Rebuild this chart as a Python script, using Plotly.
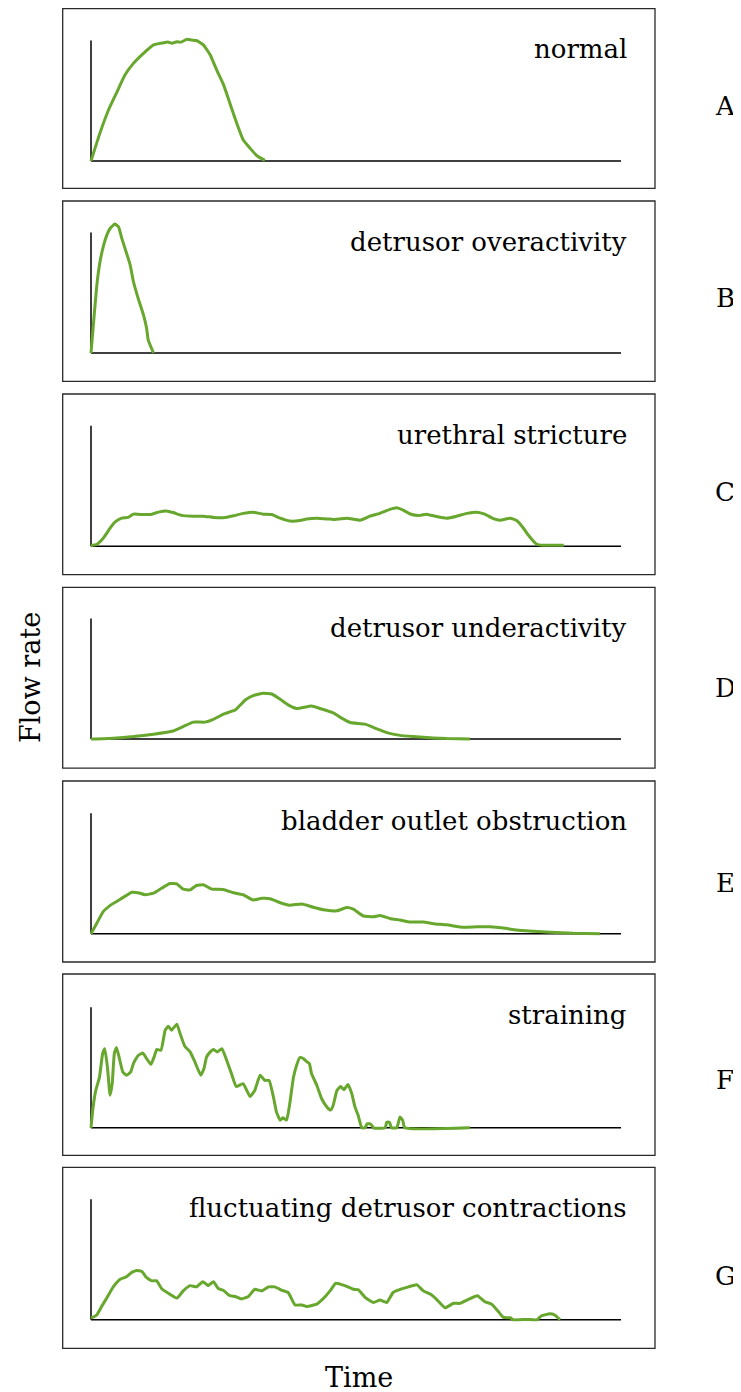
import plotly.graph_objects as go

# The page body has an 8px margin; the figure is sized so the page fills the 741x1392 window.
PAGE_MARGIN = 8
W, H = 741 - PAGE_MARGIN, 1392 - PAGE_MARGIN

# ---------------- data (time in % of axis length, flow in arbitrary units, axis top = 30) -------------
panel_titles = ["normal", "detrusor overactivity", "urethral stricture", "detrusor underactivity",
                "bladder outlet obstruction", "straining", "fluctuating detrusor contractions"]
panel_letters = ["A", "B", "C", "D", "E", "F", "G"]

normal_time = [0, 1.7, 3.3, 4.8, 6.4, 8.0, 9.9, 11.8, 13.6, 14.5, 15.3, 16.2, 17.0, 18.1, 19.0, 19.9,
               21.2, 22.5, 23.7, 25.0, 26.2, 27.5, 28.7, 30.0, 31.3, 32.8]
normal_flow = [0, 7.0, 12.7, 16.9, 21.4, 24.3, 26.8, 28.9, 29.4, 29.6, 29.3, 29.7, 29.6, 30.3, 30.1, 30.0,
               28.9, 26.4, 22.7, 19.0, 14.4, 9.4, 5.3, 3.2, 1.3, 0.15]

overactive_time = [0, 0.5, 1.1, 1.7, 2.4, 3.0, 3.6, 4.5, 5.2, 5.8, 6.4, 7.4, 8.0, 8.9, 9.9, 10.5, 10.8, 11.8]
overactive_flow = [0, 7.8, 16.9, 22.7, 26.9, 29.4, 31.0, 32.1, 31.4, 28.6, 26.1, 21.9, 17.8, 13.6, 9.5, 6.1, 3.2, 0]

stricture_time = [0, 1.1, 2.3, 3.6, 4.5, 5.8, 7.0, 8.0, 9.9, 11.5, 12.7, 14.2, 15.5, 17.1, 19.3, 21.2, 23.1,
                  25.0, 26.9, 28.7, 30.6, 32.5, 34.1, 35.7, 37.5, 39.4, 40.7, 42.6, 44.8, 45.7, 48.3, 50.8,
                  52.6, 54.5, 56.4, 57.7, 58.9, 60.5, 62.1, 63.3, 65.2, 67.1, 69.0, 70.9, 72.8, 74.3, 75.9,
                  77.2, 79.1, 80.3, 81.6, 82.5, 84.1, 85.4, 89.2]
stricture_flow = [0.15, 0.5, 2.0, 4.5, 6.0, 7.0, 7.2, 8.0, 7.9, 8.0, 8.5, 8.8, 8.4, 7.7, 7.5, 7.5, 7.2,
                  7.1, 7.6, 8.2, 8.5, 8.0, 7.9, 7.0, 6.3, 6.4, 6.8, 7.0, 6.8, 6.7, 7.0, 6.5,
                  7.5, 8.2, 9.2, 9.6, 9.0, 7.9, 7.7, 8.0, 7.4, 7.0, 7.5, 8.2, 8.5, 8.0, 6.9,
                  6.5, 7.0, 6.4, 4.5, 2.8, 0.5, 0.25, 0.25]

underactive_time = [0, 4.2, 8.0, 11.8, 15.5, 17.4, 19.3, 21.5, 23.1, 25.0, 27.2, 29.1, 30.6, 32.5, 34.1,
                    35.7, 37.2, 38.8, 41.6, 43.2, 45.7, 47.3, 48.9, 51.7, 53.6, 55.8, 58.3, 60.8, 64.6,
                    67.1, 71.5]
underactive_flow = [0, 0.2, 0.6, 1.2, 2.0, 3.1, 4.2, 4.2, 4.9, 6.2, 7.2, 9.7, 10.8, 11.4, 11.2,
                    9.9, 8.5, 7.6, 8.2, 7.6, 6.5, 5.2, 4.1, 3.7, 2.7, 1.6, 0.9, 0.6, 0.25,
                    0.1, 0]

obstruction_time = [0, 1.1, 2.3, 3.9, 5.8, 7.7, 8.9, 10.2, 11.8, 13.3, 14.9, 16.2, 17.4, 18.7, 19.9, 21.2,
                    22.8, 24.9, 26.9, 28.7, 30.6, 32.2, 33.8, 35.7, 37.5, 39.8, 41.9, 44.2, 46.4, 48.2,
                    49.5, 51.4, 53.3, 54.5, 56.4, 58.3, 60.2, 62.7, 64.6, 67.1, 70.3, 72.8, 75.3, 77.8,
                    80.3, 83.5, 86.6, 91.0, 96.0]
obstruction_flow = [0, 2.6, 5.5, 7.3, 8.8, 10.3, 10.2, 9.7, 10.1, 11.3, 12.5, 12.4, 11.1, 10.9, 12.0, 12.2,
                    11.1, 11.0, 10.2, 9.7, 8.4, 8.8, 8.7, 7.7, 7.1, 7.4, 6.6, 5.9, 5.7, 6.5,
                    6.1, 4.4, 4.2, 4.5, 3.8, 3.4, 2.9, 2.9, 2.5, 2.2, 1.6, 1.7, 1.7, 1.4,
                    0.9, 0.6, 0.35, 0.1, 0]

straining_time = [0, 0.4, 0.9, 1.6, 2.2, 2.6, 3.1, 3.6, 4.0, 4.4, 4.8, 5.3, 6.0, 6.7, 7.5, 8.0, 8.9, 9.8,
                  10.5, 11.3, 11.9, 12.4, 13.2, 14.0, 14.6, 15.2, 16.2, 16.8, 17.7, 18.7, 19.6, 20.7,
                  21.3, 21.8, 22.5, 23.1, 23.8, 24.7, 25.6, 26.5, 27.4, 28.7, 30.0, 30.9, 31.9, 32.8,
                  33.6, 34.4, 35.0, 35.7, 36.2, 36.9, 37.5, 38.2, 38.8, 39.4, 40.1, 40.6, 41.2, 41.6,
                  42.6, 43.5, 44.5, 45.2, 45.7, 46.4, 47.1, 47.7, 48.5, 49.2, 49.8, 50.4, 51.1, 51.7,
                  52.1, 52.8, 53.3, 55.5, 55.8, 56.3, 56.7, 57.7, 58.3, 58.8, 59.2, 71.5]
straining_flow = [0, 5.2, 9.3, 12.6, 18.5, 19.7, 15.1, 8.1, 11.0, 18.5, 20.0, 17.6, 13.9, 13.1, 13.9, 16.0,
                  18.0, 18.6, 17.2, 15.8, 17.6, 19.5, 19.3, 24.3, 25.3, 24.3, 25.8, 23.5, 20.3, 18.9,
                  16.4, 13.1, 14.7, 17.6, 18.9, 19.5, 18.9, 19.7, 16.8, 13.5, 10.3, 11.0, 7.8, 9.3,
                  13.1, 11.8, 11.8, 7.8, 3.9, 1.9, 2.5, 1.9, 6.0, 12.6, 15.6, 17.5, 17.2, 16.6, 16.0,
                  13.5, 10.6, 7.3, 5.2, 4.4, 5.6, 9.3, 10.3, 9.5, 10.8, 8.5, 5.2, 3.1, 0, 0,
                  1.0, 0.9, 0, 0, 1.4, 1.4, 0, 0, 2.7, 1.9, 0, 0]

fluctuating_time = [0, 1.1, 2.0, 3.0, 4.2, 5.5, 6.7, 7.7, 8.6, 9.6, 10.5, 11.5, 12.4, 13.3, 14.6, 16.2,
                    17.4, 18.7, 19.9, 21.1, 22.1, 23.1, 24.0, 25.0, 26.2, 27.2, 28.4, 29.7, 30.9, 32.2,
                    33.5, 34.7, 35.9, 37.2, 38.5, 39.8, 40.7, 42.6, 43.2, 44.2, 45.1, 46.2, 47.9, 49.5,
                    50.4, 51.7, 53.3, 54.5, 55.8, 57.0, 58.6, 59.9, 61.5, 62.7, 64.0, 65.2, 66.8, 68.4,
                    69.6, 71.2, 72.9, 74.3, 75.6, 76.9, 77.8, 79.1, 79.7, 82.2, 84.1, 85.0, 86.6, 87.5,
                    88.5]
fluctuating_flow = [0.4, 1.2, 3.3, 5.5, 8.2, 10.1, 10.7, 11.8, 12.3, 12.0, 10.5, 9.7, 9.7, 7.8, 6.6, 5.4,
                    7.2, 8.5, 8.2, 9.5, 8.5, 9.5, 7.8, 7.3, 6.0, 5.8, 5.2, 5.8, 7.6, 7.2,
                    8.2, 8.2, 7.4, 6.8, 3.7, 3.7, 3.3, 3.9, 4.5, 5.8, 7.2, 9.1, 8.5, 7.6,
                    7.5, 5.6, 4.3, 4.9, 4.3, 6.8, 7.7, 8.2, 8.7, 7.2, 6.4, 5.1, 3.0, 4.1,
                    4.1, 5.1, 6.0, 4.5, 3.9, 2.0, 0.6, 0.5, 0, 0.1, 0, 1.0, 1.5, 1.2,
                    0]

series_time = [normal_time, overactive_time, stricture_time, underactive_time,
               obstruction_time, straining_time, fluctuating_time]
series_flow = [normal_flow, overactive_flow, stricture_flow, underactive_flow,
               obstruction_flow, straining_flow, fluctuating_flow]

axis_time_max = 100
axis_flow_max = 30

# ---------------- layout geometry (window pixels) ----------------
box_left, box_right = 62.7, 655.0
box_tops = [8.7, 201.0, 394.0, 587.3, 781.0, 974.0, 1167.3]
box_bottoms = [188.4, 381.3, 574.6, 768.2, 962.0, 1155.3, 1348.3]
baselines = [161.0, 353.0, 546.3, 739.0, 933.7, 1127.8, 1319.8]
title_centers = [49, 242, 435, 628, 821, 1015, 1208]
letter_centers = [106, 298, 492, 688, 883, 1080, 1276]
ax_left_px, ax_right_px = 91.0, 621.0
ax_h_px = 120.5
x_lo, x_hi = -1.0, 101.0
y_lo, y_hi = -1.0, 34.0

px_per_t = (ax_right_px - ax_left_px) / axis_time_max
px_per_q = ax_h_px / axis_flow_max

green = "#67a72d"
font_family = "DejaVu Serif, Liberation Serif, serif"

fig = go.Figure()
layout = dict(width=W, height=H, margin=dict(l=0, r=0, t=0, b=0, pad=0),
              paper_bgcolor="white", plot_bgcolor="rgba(0,0,0,0)", showlegend=False)
shapes = []
annotations = []


def px_(x):
    return (x - PAGE_MARGIN) / W


def py(y):
    return 1 - (y - PAGE_MARGIN) / H


for k in range(7):
    n = k + 1
    xa = "x" if n == 1 else f"x{n}"
    ya = "y" if n == 1 else f"y{n}"
    fig.add_trace(go.Scatter(x=series_time[k], y=series_flow[k], mode="lines",
                             line=dict(color=green, width=3.0, shape="spline", smoothing=0.4),
                             xaxis=xa, yaxis=ya, hoverinfo="skip"))
    xd = [px_(ax_left_px + x_lo * px_per_t), px_(ax_left_px + x_hi * px_per_t)]
    yd = [py(baselines[k] - y_lo * px_per_q), py(baselines[k] - y_hi * px_per_q)]
    kx = "xaxis" if n == 1 else f"xaxis{n}"
    ky = "yaxis" if n == 1 else f"yaxis{n}"
    layout[kx] = dict(domain=xd, range=[x_lo, x_hi], visible=False, anchor=ya, fixedrange=True)
    layout[ky] = dict(domain=yd, range=[y_lo, y_hi], visible=False, anchor=xa, fixedrange=True)
    # axis lines
    shapes.append(dict(type="line", xref=xa, yref=ya, x0=0, x1=0, y0=0, y1=axis_flow_max,
                       line=dict(color="black", width=1.5), layer="below"))
    shapes.append(dict(type="line", xref=xa, yref=ya, x0=0, x1=axis_time_max, y0=0, y1=0,
                       line=dict(color="black", width=1.5), layer="below"))
    # panel frame
    shapes.append(dict(type="rect", xref="paper", yref="paper",
                       x0=px_(box_left), x1=px_(box_right),
                       y0=py(box_bottoms[k]), y1=py(box_tops[k]),
                       line=dict(color="#2a2a2a", width=1.3), fillcolor="rgba(0,0,0,0)", layer="below"))
    annotations.append(dict(text=panel_titles[k], xref="paper", yref="paper",
                            x=px_(629), y=py(title_centers[k]), xanchor="right", yanchor="middle",
                            showarrow=False, font=dict(family=font_family, size=26, color="black")))
    annotations.append(dict(text=panel_letters[k], xref="paper", yref="paper",
                            x=px_(725), y=py(letter_centers[k]), xanchor="center", yanchor="middle",
                            showarrow=False, font=dict(family=font_family, size=26, color="black")))

annotations.append(dict(text="Flow rate", xref="paper", yref="paper", x=px_(30), y=py(678),
                        xanchor="center", yanchor="middle", textangle=-90, showarrow=False,
                        font=dict(family=font_family, size=27, color="black")))
annotations.append(dict(text="Time", xref="paper", yref="paper", x=px_(359), y=py(1377),
                        xanchor="center", yanchor="middle", showarrow=False,
                        font=dict(family=font_family, size=27, color="black")))

layout["shapes"] = shapes
layout["annotations"] = annotations
fig.update_layout(**layout)
fig.write_html("out.html")
